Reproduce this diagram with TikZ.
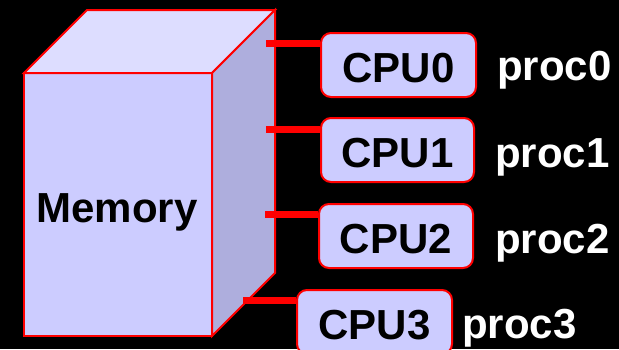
\documentclass[tikz,border=0pt]{standalone}
\usepackage{fontspec}
\setmainfont{Liberation Sans}
\begin{document}
\begin{tikzpicture}[x=1pt,y=-1pt,
  bigfont/.style={font=\fontsize{42}{42}\bfseries\selectfont},
  face/.style={draw=red,line width=2pt,line join=miter},
  cpubox/.style={draw=red,line width=2pt,fill=cpufill,rounded corners=10pt,
    minimum width=155pt,minimum height=64pt,inner sep=0pt,
    text height=34pt,text depth=0pt,bigfont},
  proclabel/.style={anchor=base west,inner sep=0pt,text=white,bigfont},
  bus/.style={red,line width=7pt}]
\definecolor{cpufill}{HTML}{CCCCFF}
\definecolor{topfill}{HTML}{DDDDFF}
\definecolor{sidefill}{HTML}{AEAEDD}
% background
\fill[black] (0,0) rectangle (619,349);
\useasboundingbox (0,0) rectangle (619,349);
% memory block
\filldraw[face,fill=cpufill] (24,73) -- (212,73) -- (212,336) -- (24,336) -- cycle;
\filldraw[face,fill=topfill] (24,73) -- (87,10) -- (275,10) -- (212,73) -- cycle;
\filldraw[face,fill=sidefill] (212,73) -- (275,10) -- (275,273) -- (212,336) -- cycle;
\node[anchor=base,inner sep=0pt,bigfont] (mem) at (117,222) {Memory};
% bus attachment points
\coordinate (p0) at (266,43);
\coordinate (p1) at (266,129);
\coordinate (p2) at (265,214);
\coordinate (p3) at (243,300);
% processors
\node[cpubox] (cpu0) at (398.5,65) {CPU0};
\node[cpubox,minimum width=153pt] (cpu1) at (397.5,150) {CPU1};
\node[cpubox,minimum width=154pt] (cpu2) at (396,236) {CPU2};
\node[cpubox] (cpu3) at (374.5,322) {CPU3};
% connections
\draw[bus] (p0) -- (p0 -| cpu0.west);
\draw[bus] (p1) -- (p1 -| cpu1.west);
\draw[bus] (p2) -- (p2 -| cpu2.west);
\draw[bus] (p3) -- (p3 -| cpu3.west);
% process labels
\node[proclabel] (r0) at (497,80) {proc0};
\node[proclabel] (r1) at (495,167) {proc1};
\node[proclabel] (r2) at (495,253) {proc2};
\node[proclabel] (r3) at (462,338) {proc3};
\end{tikzpicture}
\end{document}
